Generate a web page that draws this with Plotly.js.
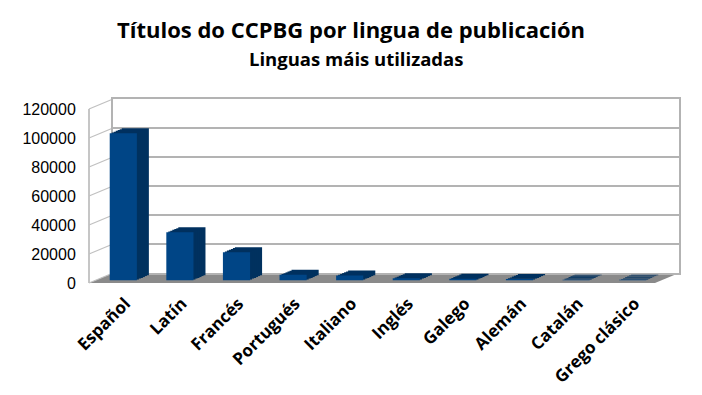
<!DOCTYPE html>
<html><head><meta charset="utf-8">
<script src="https://cdn.plot.ly/plotly-3.0.1.min.js"></script>
<style>html,body{margin:0;padding:0;background:#fff}</style></head><body>
<div id="chart" style="width:702px;height:395px"></div>
<script>
const categories = ["Español","Latín","Francés","Portugués","Italiano","Inglés","Galego","Alemán","Catalán","Grego clásico"];
const values = [101500, 33200, 19500, 3900, 3400, 1500, 1200, 1000, 600, 500];
const yTicks = [0, 20000, 40000, 60000, 80000, 100000, 120000];
const titleText = "Títulos do CCPBG por lingua de publicación";
const subtitleText = "Linguas máis utilizadas";

const W = 702, H = 395;
const PL = 60;
const L = 89, R = 679, T = 99, B = 283;
const PW = R - PL, PH = B - T;
const DX = 24, DY = 10;
const FRONT_W = 566, SPAN = 174;
const YMAX = 120000;
const clamp = v => Math.max(0, Math.min(1, v));
const fx = p => (p - PL) / PW;
const fy = p => (B - p) / PH;
function plane(d, shiftX) {
  const dy = d * DY / DX;
  const s = shiftX || 0;
  return { x: [clamp(fx(L + d + s)), clamp(fx(L + d + s + FRONT_W))], y: [clamp(fy(B - dy)), clamp(fy(B - dy - SPAN))] };
}
function hiddenX(dom, anchor) {
  return { domain: dom, anchor: anchor, range: [-0.5, categories.length - 0.5], showgrid: false, zeroline: false,
           showticklabels: false, ticks: '', showline: false, fixedrange: true };
}
function hiddenY(dom, anchor) {
  return { domain: dom, anchor: anchor, range: [0, YMAX], showgrid: false, zeroline: false,
           showticklabels: false, ticks: '', showline: false, fixedrange: true };
}

const layout = {
  width: W, height: H,
  margin: { l: PL, r: W - R, t: T, b: H - B, pad: 0 },
  paper_bgcolor: '#ffffff', plot_bgcolor: 'rgba(0,0,0,0)',
  showlegend: false,
  shapes: [], annotations: []
};
const data = [];
const xs = categories.map((c, i) => i);

const back = plane(24);
layout.xaxis = Object.assign(hiddenX(back.x, 'y'), { showline: true, mirror: true, linecolor: '#b3b3b3', linewidth: 2 });
layout.yaxis = Object.assign(hiddenY(back.y, 'x'), { showgrid: true, tickvals: yTicks, gridcolor: '#b3b3b3', gridwidth: 2,
  showline: true, mirror: true, linecolor: '#b3b3b3', linewidth: 2 });
data.push({ type: 'scatter', x: [], y: [], xaxis: 'x', yaxis: 'y', hoverinfo: 'skip' });

const depths = [18, 16, 14, 12, 10, 8];
let idx = 2;
depths.forEach(d => {
  const p = plane(d);
  layout['xaxis' + idx] = hiddenX(p.x, 'y' + idx);
  layout['yaxis' + idx] = hiddenY(p.y, 'x' + idx);
  data.push({ type: 'bar', x: xs, y: values, xaxis: 'x' + idx, yaxis: 'y' + idx,
    width: 0.48, marker: { color: '#00315f', line: { width: 0 } }, hoverinfo: 'skip' });
  idx++;
});
const fp = plane(6);
layout['xaxis' + idx] = hiddenX(fp.x, 'y' + idx);
layout['yaxis' + idx] = hiddenY(fp.y, 'x' + idx);
data.push({ type: 'bar', x: xs, y: values, xaxis: 'x' + idx, yaxis: 'y' + idx,
  width: 0.48, marker: { color: '#004586', line: { width: 0 } } });
idx++;

const lp = plane(0);
layout['xaxis' + idx] = hiddenX(lp.x, 'y' + idx);
layout['yaxis' + idx] = { domain: lp.y, anchor: 'x' + idx, range: [0, YMAX], tickvals: yTicks,
  ticktext: yTicks.map(String), ticks: 'outside', ticklen: 9, tickcolor: 'rgba(0,0,0,0)',
  showgrid: false, zeroline: false, showline: false,
  tickfont: { family: 'Liberation Sans', size: 16, color: '#000' }, fixedrange: true };
data.push({ type: 'scatter', x: [], y: [], xaxis: 'x' + idx, yaxis: 'y' + idx, hoverinfo: 'skip' });
const yl = idx;
idx++;

const cp = plane(0, 8);
layout['xaxis' + idx] = { domain: cp.x, anchor: 'y' + yl, range: [-0.5, categories.length - 0.5],
  tickvals: xs, ticktext: categories, tickangle: -45,
  ticks: 'outside', ticklen: 3, tickcolor: 'rgba(0,0,0,0)', showgrid: false, zeroline: false, showline: false,
  tickfont: { family: 'Open Sans', size: 17, color: '#000', weight: 'bold' }, fixedrange: true };
data.push({ type: 'scatter', x: [], y: [], xaxis: 'x' + idx, yaxis: 'y' + yl, hoverinfo: 'skip' });

layout.shapes.push({ type: 'path', xref: 'paper', yref: 'paper', layer: 'below',
  path: `M ${fx(L)} ${fy(B)} L ${fx(L + FRONT_W)} ${fy(B)} L ${fx(R)} ${fy(B - DY)} L ${fx(L + DX)} ${fy(B - DY)} Z`,
  fillcolor: '#8a8a8a', line: { width: 0 } });
layout.shapes.push({ type: 'line', xref: 'paper', yref: 'paper', layer: 'below',
  x0: fx(L), x1: fx(L), y0: fy(B), y1: fy(B - SPAN), line: { color: '#b3b3b3', width: 1.5 } });
yTicks.forEach(v => {
  const off = v / YMAX * SPAN;
  layout.shapes.push({ type: 'line', xref: 'paper', yref: 'paper', layer: 'below',
    x0: fx(L), y0: fy(B - off), x1: fx(L + DX), y1: fy(B - DY - off), line: { color: '#c0c0c0', width: 1.2 } });
});

layout.annotations.push({ text: '<b>' + titleText + '</b>', xref: 'paper', yref: 'paper', x: fx(351), y: fy(29),
  xanchor: 'center', yanchor: 'middle', showarrow: false, font: { family: 'Open Sans', size: 22, color: '#000' } });
layout.annotations.push({ text: '<b>' + subtitleText + '</b>', xref: 'paper', yref: 'paper', x: fx(356), y: fy(58),
  xanchor: 'center', yanchor: 'middle', showarrow: false, font: { family: 'Open Sans', size: 18.5, color: '#000' } });

Plotly.newPlot('chart', data, layout, { staticPlot: true, displayModeBar: false });
</script></body></html>
